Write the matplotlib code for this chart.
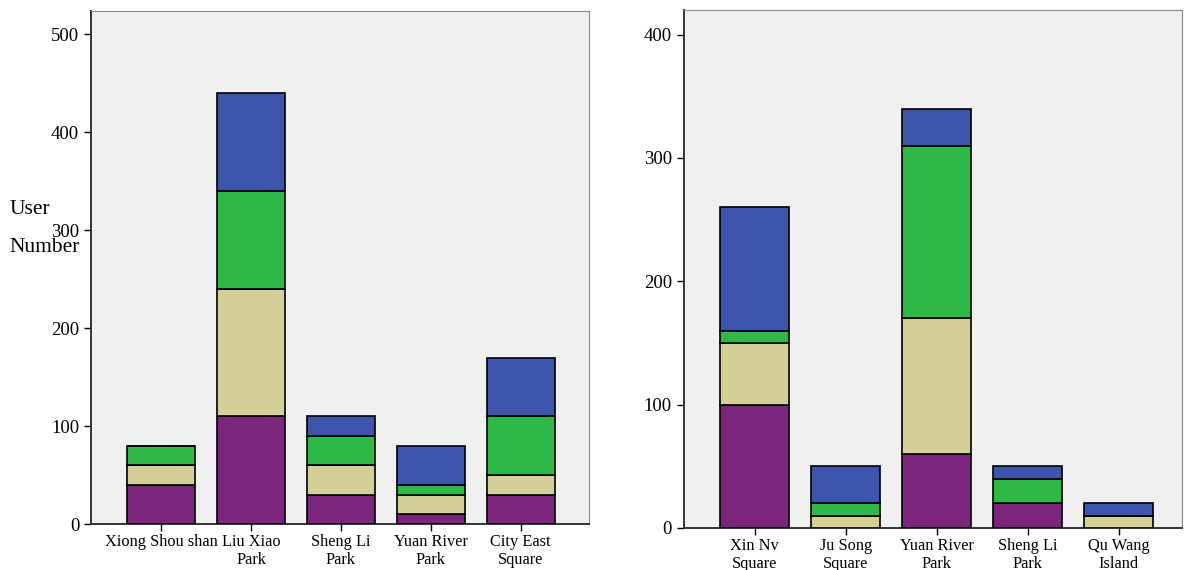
import numpy as np
import matplotlib
matplotlib.use("Agg")
import matplotlib.pyplot as plt

plt.rcParams["font.family"] = ["Liberation Serif", "DejaVu Serif"]

# Left chart: users per place, stacked by group (bottom to top)
left_places = ["Xiong Shou shan", "Liu Xiao\nPark", "Sheng Li\nPark", "Yuan River\nPark", "City East\nSquare"]
left_purple = [40, 110, 30, 10, 30]
left_tan    = [20, 130, 30, 20, 20]
left_green  = [20, 100, 30, 10, 60]
left_blue   = [0, 100, 20, 40, 60]

# Right chart
right_places = ["Xin Nv\nSquare", "Ju Song\nSquare", "Yuan River\nPark", "Sheng Li\nPark", "Qu Wang\nIsland"]
right_purple = [100, 0, 60, 20, 0]
right_tan    = [50, 10, 110, 0, 10]
right_green  = [10, 10, 140, 20, 0]
right_blue   = [100, 30, 30, 10, 10]

left_yticks = [0, 100, 200, 300, 400, 500]
right_yticks = [0, 100, 200, 300, 400]

colors = ["#7B267C", "#D5CF9A", "#2EB845", "#3D56AC"]


def stacked(ax, places, series, ylim, xlim, yticks):
    x = np.arange(len(places))
    bottom = np.zeros(len(places))
    for vals, c in zip(series, colors):
        vals = np.array(vals, dtype=float)
        ax.bar(x, vals, bottom=bottom, width=0.76, color=c,
               edgecolor="black", linewidth=1.2, zorder=3)
        bottom += vals
    ax.set_facecolor("#F0F0F0")
    ax.set_xlim(*xlim)
    ax.set_ylim(0, ylim)
    ax.set_xticks(x)
    ax.set_xticklabels(places, fontsize=11.8)
    ax.set_yticks(yticks)
    ax.tick_params(axis="y", labelsize=13.5, length=5, width=1, direction="out")
    ax.tick_params(axis="x", length=5, width=1, direction="out", pad=2)
    for s in ["left", "bottom"]:
        ax.spines[s].set_linewidth(1.4)
        ax.spines[s].set_color("#333333")
    for s in ["top", "right"]:
        ax.spines[s].set_linewidth(0.8)
        ax.spines[s].set_color("#888888")


fig = plt.figure(figsize=(11.87, 5.70), dpi=100)
ax1 = fig.add_axes([0.0767, 0.0807, 0.4195, 0.900])
ax2 = fig.add_axes([0.576, 0.0737, 0.420, 0.9088])

stacked(ax1, left_places, [left_purple, left_tan, left_green, left_blue],
        524, (-0.78, 4.76), left_yticks)
stacked(ax2, right_places, [right_purple, right_tan, right_green, right_blue],
        420, (-0.78, 4.70), right_yticks)

# y label split in two lines around the 300 tick, as in the original
fig.text(0.008, 1 - 210 / 570, "User", fontsize=15.5, ha="left", va="center")
fig.text(0.008, 1 - 248 / 570, "Number", fontsize=15.5, ha="left", va="center")

fig.savefig("out.png", dpi=100, facecolor="white")
